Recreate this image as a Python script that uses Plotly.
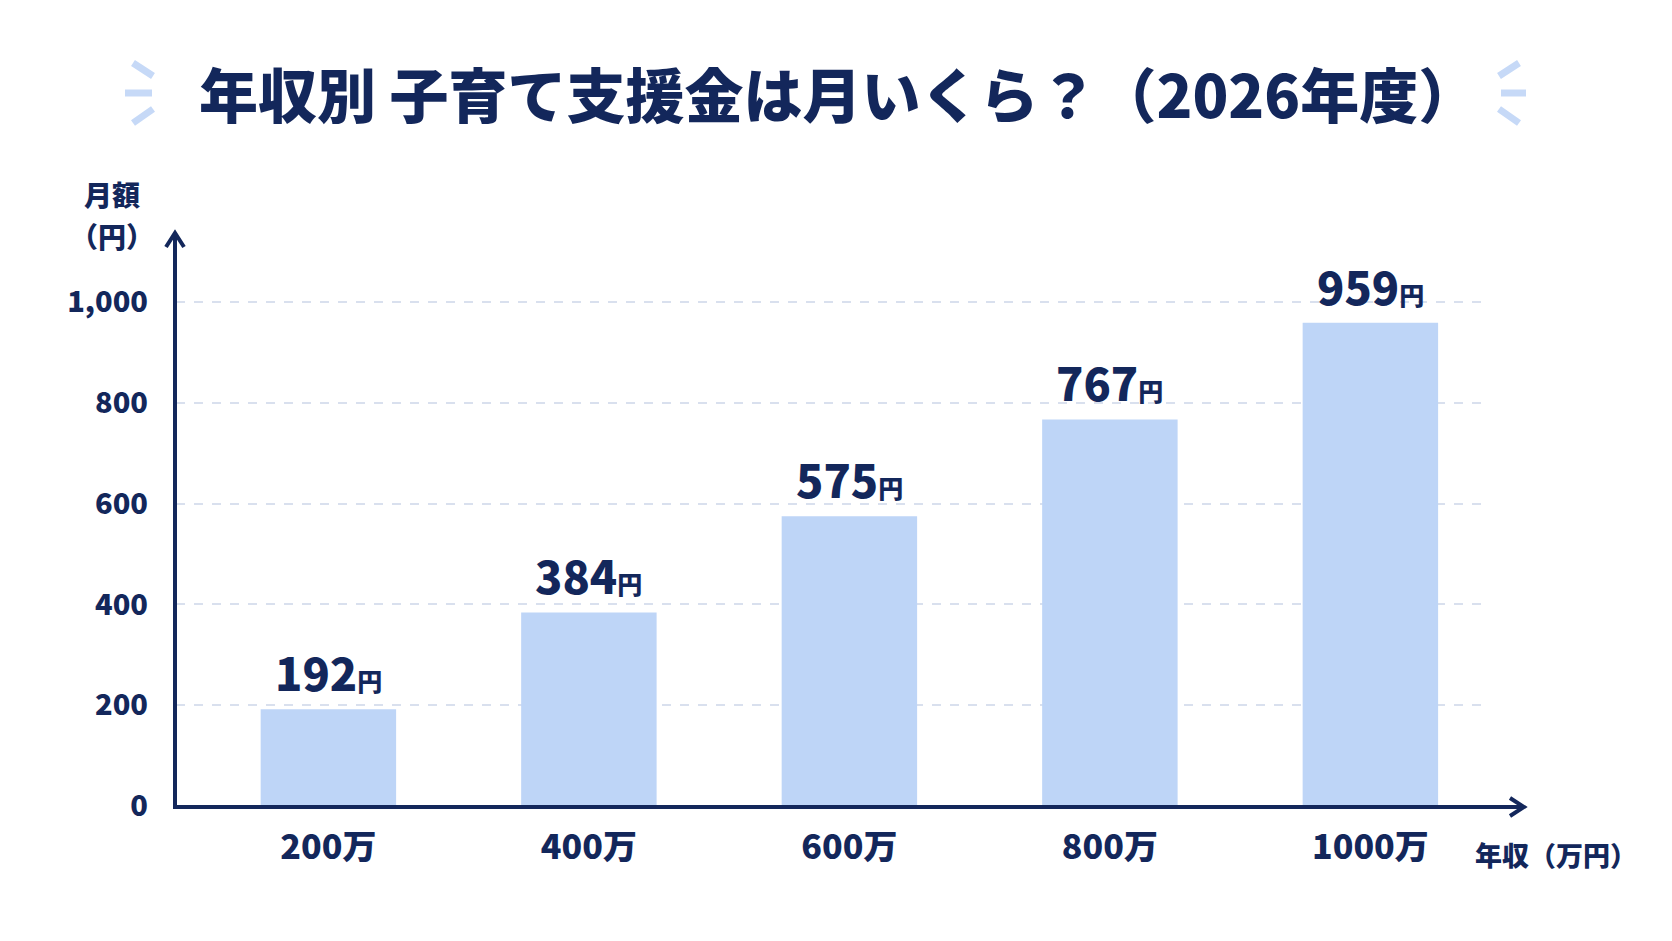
import plotly.graph_objects as go

categories = ["200万", "400万", "600万", "800万", "1000万"]
values = [192, 384, 575, 767, 959]
y_ticks = [0, 200, 400, 600, 800, 1000]
y_tick_labels = ["0", "200", "400", "600", "800", "1,000"]

NAVY = "#13275b"
BAR = "#bed5f7"
GRID = "#d9e0ee"
DECO = "#c6d9f7"
FONT = "Noto Sans CJK JP"

W, H = 1672, 941
L, R, T, B = 176, 1485, 232, 806  # plot area in px

def px(x):
    return (x - L) / (R - L)

def py(y):
    return (B - y) / (B - T)

fig = go.Figure()
fig.add_trace(go.Bar(
    x=categories, y=values, marker=dict(color=BAR, line=dict(width=0)),
    width=0.52, hoverinfo="skip",
))

# value labels
for c, v in zip(categories, values):
    fig.add_annotation(
        x=c, y=v, xref="x", yref="y", yanchor="bottom", yshift=3, showarrow=False,
        text=f"{v}<span style='font-size:25px'>円</span>",
        font=dict(family=FONT, size=45, color=NAVY, weight=900),
    )

shapes = []
# axes lines
shapes.append(dict(type="line", xref="paper", yref="paper", x0=px(175), x1=px(175), y0=py(808), y1=py(233),
                   line=dict(color=NAVY, width=4)))
shapes.append(dict(type="line", xref="paper", yref="paper", x0=px(173), x1=px(1524), y0=py(807), y1=py(807),
                   line=dict(color=NAVY, width=4)))
# arrow heads
shapes.append(dict(type="path", xref="paper", yref="paper",
                   path=f"M {px(166)} {py(247)} L {px(175)} {py(233)} L {px(184)} {py(247)}",
                   line=dict(color=NAVY, width=4)))
shapes.append(dict(type="path", xref="paper", yref="paper",
                   path=f"M {px(1510)} {py(798)} L {px(1524)} {py(807)} L {px(1510)} {py(816)}",
                   line=dict(color=NAVY, width=4)))
# title decorations
deco = [
    ((133, 63), (153, 76)), ((125, 93), (152, 93)), ((133, 123), (153, 109)),
    ((1499, 76), (1519, 63)), ((1501, 93), (1526, 93)), ((1499, 109), (1519, 123)),
]
for (x0, y0), (x1, y1) in deco:
    shapes.append(dict(type="line", xref="paper", yref="paper", x0=px(x0), y0=py(y0), x1=px(x1), y1=py(y1),
                       line=dict(color=DECO, width=7)))

fig.update_layout(
    width=W, height=H,
    margin=dict(l=L, r=W - R, t=T, b=H - B),
    paper_bgcolor="white", plot_bgcolor="white",
    showlegend=False,
    shapes=shapes,
    font=dict(family=FONT, color=NAVY),
    xaxis=dict(
        type="category", range=[-0.585, 4.44], showgrid=False, showline=False, zeroline=False,
        ticks="", tickfont=dict(family=FONT, size=34, color=NAVY, weight=900),
        ticklabelstandoff=18, fixedrange=True,
    ),
    yaxis=dict(
        range=[0, (B - T) / 0.504], tickvals=y_ticks, ticktext=y_tick_labels,
        showgrid=True, gridcolor=GRID, griddash="dash", gridwidth=1.5,
        showline=False, zeroline=False, ticks="",
        tickfont=dict(family=FONT, size=29, color=NAVY, weight=900),
        ticklabelstandoff=27, fixedrange=True,
    ),
)

# title
fig.add_annotation(
    xref="paper", yref="paper", x=px(838), y=py(92), xanchor="center", yanchor="middle", showarrow=False,
    text="年収別 子育て支援金は月いくら？（2026年度）",
    font=dict(family=FONT, size=59, color=NAVY, weight=900),
)
# y axis title
fig.add_annotation(xref="paper", yref="paper", x=px(112), y=py(194), xanchor="center", yanchor="middle",
                   showarrow=False, text="月額", font=dict(family=FONT, size=28, color=NAVY, weight=900))
fig.add_annotation(xref="paper", yref="paper", x=px(112), y=py(236), xanchor="center", yanchor="middle",
                   showarrow=False, text="（円）", font=dict(family=FONT, size=28, color=NAVY, weight=900))
# x axis title
fig.add_annotation(xref="paper", yref="paper", x=px(1556), y=py(854), xanchor="center", yanchor="middle",
                   showarrow=False, text="年収（万円）", font=dict(family=FONT, size=27, color=NAVY, weight=900))

fig.write_html("out.html")
